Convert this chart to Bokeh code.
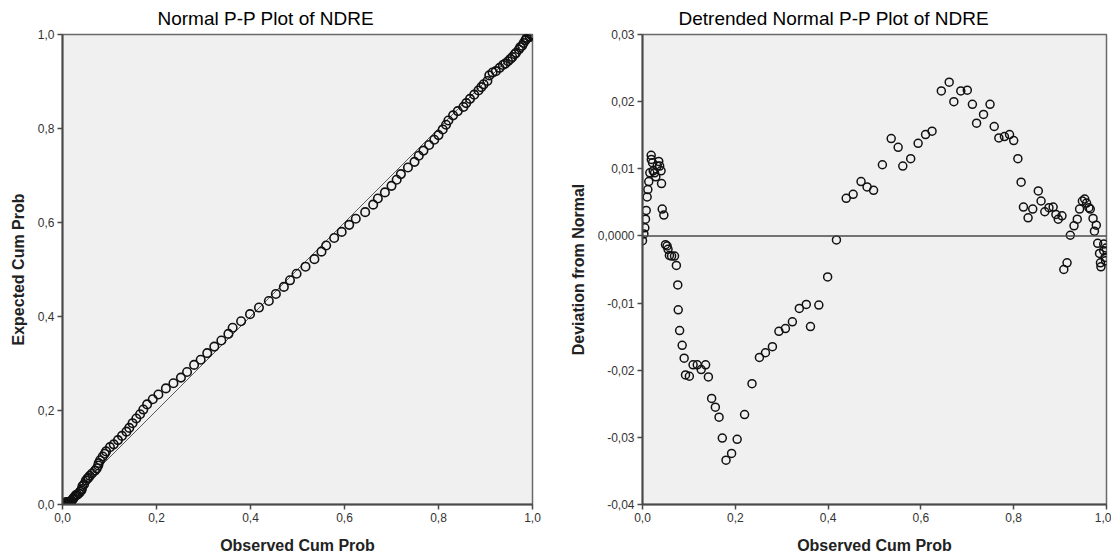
from bokeh.plotting import figure
from bokeh.layouts import row
from bokeh.models import Range1d, FixedTicker, CustomJSTickFormatter, Span
from bokeh.embed import file_html
from bokeh.resources import INLINE

# ---- Detrended P-P data (observed cum prob, deviation from normal) ----
observed = [0.000, 0.003, 0.005, 0.0065, 0.008, 0.010, 0.0115, 0.0135, 0.0158, 0.0187,
            0.019, 0.0216, 0.023, 0.026, 0.0287, 0.0316, 0.035, 0.037, 0.040, 0.041,
            0.0425, 0.046, 0.0496, 0.053, 0.055, 0.058, 0.0627, 0.069, 0.073, 0.076,
            0.077, 0.080, 0.0855, 0.0898, 0.0927, 0.101, 0.109, 0.118, 0.1265, 0.136,
            0.142, 0.149, 0.157, 0.165, 0.172, 0.180, 0.192, 0.204, 0.220, 0.236,
            0.252, 0.265, 0.280, 0.294, 0.308, 0.323, 0.338, 0.353, 0.362, 0.380,
            0.399, 0.418, 0.439, 0.454, 0.471, 0.484, 0.498, 0.517, 0.536, 0.551,
            0.561, 0.578, 0.594, 0.610, 0.624, 0.644, 0.661, 0.671, 0.686, 0.700,
            0.711, 0.720, 0.735, 0.749, 0.758, 0.768, 0.780, 0.791, 0.800, 0.809,
            0.816, 0.821, 0.831, 0.841, 0.853, 0.859, 0.867, 0.876, 0.885, 0.891,
            0.896, 0.904, 0.908, 0.915, 0.922, 0.930, 0.937, 0.942, 0.948, 0.953,
            0.957, 0.962, 0.965, 0.971, 0.974, 0.978, 0.981, 0.985, 0.987, 0.988,
            0.994, 0.994, 0.997, 0.998, 0.999]
deviation = [-0.0007, 0.0003, 0.0012, 0.0025, 0.0038, 0.0058, 0.0069, 0.0081, 0.0094, 0.0120,
             0.0114, 0.0109, 0.0097, 0.0094, 0.0088, 0.0104, 0.0111, 0.0104, 0.0097, 0.0078,
             0.0040, 0.0031, -0.0013, -0.0015, -0.0020, -0.0029, -0.0030, -0.0030, -0.0044, -0.0073,
             -0.0110, -0.0141, -0.0163, -0.0182, -0.0207, -0.0209, -0.0192, -0.0192, -0.0199, -0.0192,
             -0.0210, -0.0242, -0.0255, -0.0270, -0.0301, -0.0334, -0.0324, -0.0303, -0.0266, -0.0220,
             -0.0181, -0.0174, -0.0165, -0.0142, -0.0138, -0.0128, -0.0108, -0.0102, -0.0135, -0.0103,
             -0.0061, -0.0006, 0.0056, 0.0062, 0.0081, 0.0073, 0.0068, 0.0106, 0.0145, 0.0132,
             0.0104, 0.0115, 0.0138, 0.0151, 0.0156, 0.0216, 0.0229, 0.0200, 0.0216, 0.0217,
             0.0196, 0.0168, 0.0181, 0.0196, 0.0163, 0.0146, 0.0148, 0.0151, 0.0142, 0.0115,
             0.0080, 0.0043, 0.0027, 0.0040, 0.0067, 0.0052, 0.0036, 0.0042, 0.0043, 0.0032,
             0.0025, 0.0030, -0.0050, -0.0040, 0.0001, 0.0015, 0.0025, 0.0040, 0.0052, 0.0055,
             0.0049, 0.0042, 0.0040, 0.0026, 0.0007, 0.0016, -0.0011, -0.0026, -0.0040, -0.0046,
             -0.0012, -0.0022, -0.0032, -0.0037, -0.0018]

# ---- Normal P-P data (observed vs expected cum prob) ----
pp_observed = observed
pp_expected = [0.001, 0.003, 0.004, 0.004, 0.004, 0.004, 0.005, 0.005, 0.006, 0.007,
               0.008, 0.011, 0.013, 0.017, 0.020, 0.021, 0.024, 0.027, 0.030, 0.033,
               0.039, 0.043, 0.051, 0.055, 0.057, 0.061, 0.066, 0.072, 0.077, 0.083,
               0.088, 0.094, 0.102, 0.108, 0.113, 0.122, 0.128, 0.137, 0.146, 0.155,
               0.163, 0.173, 0.183, 0.192, 0.202, 0.213, 0.224, 0.234, 0.247, 0.258,
               0.270, 0.282, 0.297, 0.308, 0.322, 0.336, 0.349, 0.363, 0.376, 0.390,
               0.405, 0.419, 0.433, 0.448, 0.463, 0.477, 0.491, 0.506, 0.522, 0.538,
               0.551, 0.567, 0.580, 0.595, 0.608, 0.622, 0.638, 0.651, 0.664, 0.678,
               0.691, 0.703, 0.717, 0.729, 0.742, 0.753, 0.765, 0.776, 0.786, 0.798,
               0.808, 0.817, 0.828, 0.837, 0.846, 0.854, 0.863, 0.872, 0.881, 0.888,
               0.894, 0.901, 0.913, 0.919, 0.922, 0.929, 0.935, 0.938, 0.943, 0.948,
               0.952, 0.958, 0.961, 0.968, 0.973, 0.976, 0.982, 0.988, 0.991, 0.993,
               0.995, 0.996, 0.999, 0.999, 0.999]

# ---- ticks ----
x_ticks = [0.0, 0.2, 0.4, 0.6, 0.8, 1.0]
x_tick_labels = ["0,0", "0,2", "0,4", "0,6", "0,8", "1,0"]
pp_y_ticks = [0.0, 0.2, 0.4, 0.6, 0.8, 1.0]
pp_y_tick_labels = ["0,0", "0,2", "0,4", "0,6", "0,8", "1,0"]
dt_y_ticks = [-0.04, -0.03, -0.02, -0.01, 0.0, 0.01, 0.02, 0.03]
dt_y_tick_labels = ["-0,04", "-0,03", "-0,02", "-0,01", "0,0000", "0,01", "0,02", "0,03"]

FONT = "Liberation Sans"
FRAME_BG = "#f0f0f0"
AXIS_COL = "#4a4a4a"


def make_formatter(vals, labs):
    return CustomJSTickFormatter(args=dict(vals=vals, labs=labs), code="""
        let best = 0, bd = 1e9;
        for (let i = 0; i < vals.length; i++) {
            const d = Math.abs(vals[i] - tick);
            if (d < bd) { bd = d; best = i; }
        }
        return labs[best];
    """)


def style(p, xt, xl, yt, yl, xlabel, ylabel, title_offset):
    p.background_fill_color = FRAME_BG
    p.border_fill_color = "white"
    p.outline_line_color = "#6a6a6a"
    p.outline_line_width = 1.5
    p.xgrid.visible = False
    p.ygrid.visible = False
    p.title.text_font = FONT
    p.title.text_font_size = "19px"
    p.title.text_font_style = "normal"
    p.title.text_color = "#000000"
    p.title.align = "left"
    p.title.offset = title_offset
    p.title.standoff = 11
    for ax, ticks, labs, lab in ((p.xaxis[0], xt, xl, xlabel), (p.yaxis[0], yt, yl, ylabel)):
        ax.ticker = FixedTicker(ticks=ticks)
        ax.formatter = make_formatter(ticks, labs)
        ax.axis_label = lab
        ax.axis_label_text_font = FONT
        ax.axis_label_text_font_style = "bold"
        ax.axis_label_text_font_size = "16px"
        ax.axis_label_text_color = "#222222"
        ax.major_label_text_font = FONT
        ax.major_label_text_font_size = "12px"
        ax.major_label_text_color = "#333333"
        ax.axis_line_color = AXIS_COL
        ax.axis_line_width = 2
        ax.major_tick_line_color = AXIS_COL
        ax.major_tick_line_width = 1.5
        ax.major_tick_out = 5
        ax.major_tick_in = 0
        ax.minor_tick_line_color = None
        ax.major_label_standoff = 3
    p.xaxis[0].axis_label_standoff = 12
    p.yaxis[0].axis_label_standoff = 8


# ---- left: Normal P-P plot ----
p1 = figure(width=560, height=556, x_range=Range1d(0, 1), y_range=Range1d(0, 1),
            title="Normal P-P Plot of NDRE", output_backend="svg", toolbar_location=None,
            min_border_left=62, min_border_right=28, min_border_top=33, min_border_bottom=52)
style(p1, x_ticks, x_tick_labels, pp_y_ticks, pp_y_tick_labels,
      "Observed Cum Prob", "Expected Cum Prob", 95)
p1.line([0, 1], [0, 1], line_color="#5a5a5a", line_width=1)
p1.scatter(pp_observed, pp_expected, marker="circle", size=8.5, fill_color=None,
           line_color="#111111", line_width=1.6)

# ---- right: Detrended Normal P-P plot ----
p2 = figure(width=551, height=556, x_range=Range1d(0, 1), y_range=Range1d(-0.04, 0.03),
            title="Detrended Normal P-P Plot of NDRE", output_backend="svg", toolbar_location=None,
            min_border_left=82, min_border_right=5, min_border_top=33, min_border_bottom=52)
style(p2, x_ticks, x_tick_labels, dt_y_ticks, dt_y_tick_labels,
      "Observed Cum Prob", "Deviation from Normal", 36)
p2.add_layout(Span(location=0, dimension="width", line_color="#4a4a4a", line_width=1.5))
p2.scatter(observed, deviation, marker="circle", size=8, fill_color=None,
           line_color="#111111", line_width=1.5)

layout = row(p1, p2, spacing=0)
open("out.html", "w").write(file_html(layout, INLINE))
